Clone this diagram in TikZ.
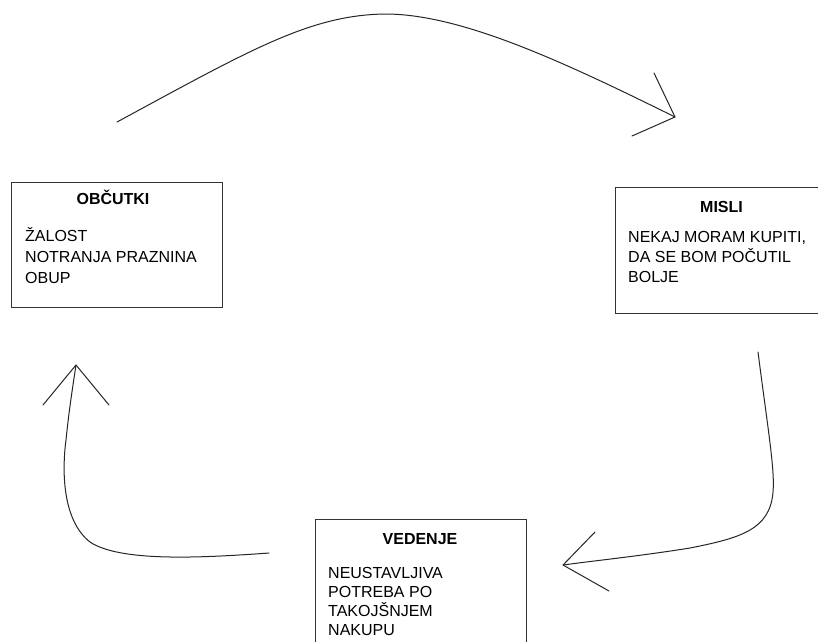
\documentclass[tikz,border=0pt]{standalone}
\usepackage{fontspec}
\setmainfont{Liberation Sans}
\begin{document}
\begin{tikzpicture}[x=1pt,y=-1pt,
  box/.style={draw=black!80, line width=1pt, rectangle, inner sep=0pt},
  ttl/.style={anchor=base, inner sep=0pt, font=\fontsize{16}{19}\selectfont\bfseries},
  txt/.style={anchor=base west, inner sep=0pt, font=\fontsize{16}{19}\selectfont},
  conn/.style={draw=black!85, line width=1pt, line cap=round, line join=round}]
\useasboundingbox (0,0) rectangle (818,641);
\clip (0,0) rectangle (818,641);
\fill[white] (0,0) rectangle (818,641);

% boxes
\node[box, minimum width=211pt, minimum height=125pt] (obc) at (116.5,244.5) {};
\node[box, minimum width=220pt, minimum height=126pt] (misli) at (725,250) {};
\node[box, minimum width=211pt, minimum height=150pt] (ved) at (420.5,594) {};

% texts
\node[ttl] (obcT) at (113,204) {OBČUTKI};
\node[txt] (obc1) at (25,241) {ŽALOST};
\node[txt] (obc2) at (25,262) {NOTRANJA PRAZNINA};
\node[txt] (obc3) at (25,283) {OBUP};

\node[ttl] (misT) at (721.5,212) {MISLI};
\node[txt] (mis1) at (628,242) {NEKAJ MORAM KUPITI,};
\node[txt] (mis2) at (628,262) {DA SE BOM POČUTIL};
\node[txt] (mis3) at (628,282) {BOLJE};

\node[ttl] (vedT) at (420,544) {VEDENJE};
\node[txt] (ved1) at (328,578) {NEUSTAVLJIVA};
\node[txt] (ved2) at (328,597) {POTREBA PO};
\node[txt] (ved3) at (328,616) {TAKOJŠNJEM};
\node[txt] (ved4) at (328,635) {NAKUPU};

% connector coordinates
\coordinate (aS) at (117,122);
\coordinate (aP) at (385,14);
\coordinate (aT) at (675,117);
\coordinate (aH1) at (654,73);
\coordinate (aH2) at (632,136);

\coordinate (bS) at (758,352);
\coordinate (bM) at (773,492);
\coordinate (bN) at (690,548);
\coordinate (bT) at (563,565);
\coordinate (bH1) at (595,532);
\coordinate (bH2) at (609,591);

\coordinate (cS) at (269,553);
\coordinate (cM) at (90,542);
\coordinate (cN) at (66,440);
\coordinate (cT) at (76,365);
\coordinate (cH1) at (43,405);
\coordinate (cH2) at (109,405);

% top arrow: OBCUTKI -> MISLI
\draw[conn] (aS) .. controls (250,50) and (310,15) .. (aP)
  .. controls (460,14) and (560,60) .. (aT);
\draw[conn] (aH1) -- (aT) -- (aH2);

% right arrow: MISLI -> VEDENJE
\draw[conn] (bS) .. controls (768,430) and (775,470) .. (bM)
  .. controls (770,530) and (740,538) .. (bN)
  .. controls (640,556) and (600,560) .. (bT);
\draw[conn] (bH1) -- (bT) -- (bH2);

% left arrow: VEDENJE -> OBCUTKI
\draw[conn] (cS) .. controls (200,558) and (120,562) .. (cM)
  .. controls (62,520) and (62,470) .. (cN)
  .. controls (69,410) and (73,385) .. (cT);
\draw[conn] (cH1) -- (cT) -- (cH2);
\end{tikzpicture}
\end{document}
